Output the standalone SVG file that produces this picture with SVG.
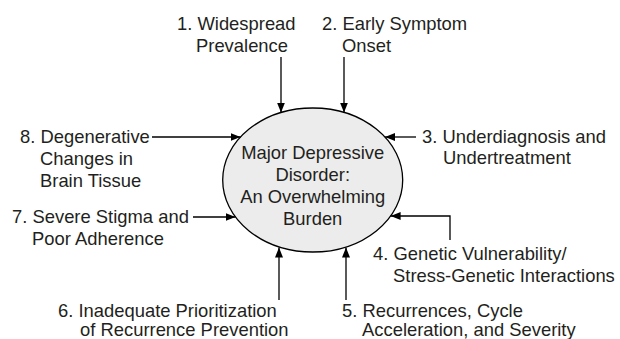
<svg xmlns="http://www.w3.org/2000/svg" width="620" height="339" viewBox="0 0 620 339">
<style>
text{font-family:"Liberation Sans",Arial,sans-serif;font-size:18.4px;fill:#231f20}
.c{text-anchor:middle}
.ln{fill:none;stroke:#000;stroke-width:1.3}
</style>
<defs>
<marker id="ah" markerUnits="userSpaceOnUse" markerWidth="11" markerHeight="8" refX="10" refY="4" orient="auto">
<path d="M0,0 L10,4 L0,8 z" fill="#000"/>
</marker>
</defs>
<rect width="620" height="339" fill="#fff"/>
<g id="center">
<ellipse cx="312.7" cy="180" rx="90" ry="72" fill="#ececec" stroke="#000" stroke-width="1.3"/>
<text class="c" x="312.7" y="159">Major Depressive</text>
<text class="c" x="312.7" y="181">Disorder:</text>
<text class="c" x="312.7" y="203">An Overwhelming</text>
<text class="c" x="312.7" y="225">Burden</text>
</g>
<g id="n1"><text x="177" y="30">1. Widespread</text><text x="196" y="52">Prevalence</text></g>
<g id="n2"><text x="322" y="30">2. Early Symptom</text><text x="342" y="52">Onset</text></g>
<g id="n3"><text x="422" y="143">3. Underdiagnosis and</text><text x="443" y="164">Undertreatment</text></g>
<g id="n4"><text x="373" y="260">4. Genetic Vulnerability/</text><text x="393" y="282">Stress-Genetic Interactions</text></g>
<g id="n5"><text x="342" y="317">5. Recurrences, Cycle</text><text x="362" y="336">Acceleration, and Severity</text></g>
<g id="n6"><text x="58" y="317">6. Inadequate Prioritization</text><text x="80" y="336">of Recurrence Prevention</text></g>
<g id="n7"><text x="12" y="223">7. Severe Stigma and</text><text x="32" y="245">Poor Adherence</text></g>
<g id="n8"><text x="20" y="143">8. Degenerative</text><text x="40" y="165">Changes in</text><text x="40" y="187">Brain Tissue</text></g>
<g id="connectors">
<path class="ln" d="M281,57 V112.6" marker-end="url(#ah)"/>
<path class="ln" d="M344,57 V112.6" marker-end="url(#ah)"/>
<path class="ln" d="M416,137 H385" marker-end="url(#ah)"/>
<path class="ln" d="M450,240 V216 H390.6" marker-end="url(#ah)"/>
<path class="ln" d="M346,300 V247.5" marker-end="url(#ah)"/>
<path class="ln" d="M279,300 V247.5" marker-end="url(#ah)"/>
<path class="ln" d="M193,217 H235.5" marker-end="url(#ah)"/>
<path class="ln" d="M152,137 H240.5" marker-end="url(#ah)"/>
</g>
</svg>
